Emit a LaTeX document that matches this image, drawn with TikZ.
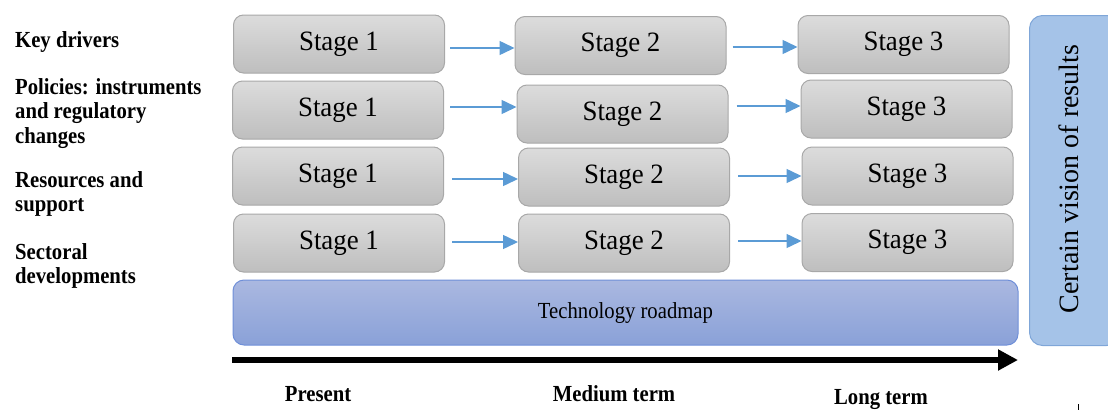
\documentclass[tikz,border=0pt]{standalone}
\usepackage{fontspec}
\setmainfont{Liberation Serif}
\newfontfamily\narrowserif[FakeStretch=0.9]{Liberation Serif}
\newfontfamily\stageserif[FakeStretch=0.96]{Liberation Serif}
\usetikzlibrary{arrows.meta}

\definecolor{stagetop}{HTML}{DCDCDC}
\definecolor{stagebot}{HTML}{BEBEBE}
\definecolor{stageedge}{HTML}{A8A8A8}
\definecolor{roadtop}{HTML}{AAB8E0}
\definecolor{roadbot}{HTML}{8AA1D8}
\definecolor{roadedge}{HTML}{6F8FD8}
\definecolor{visionfill}{HTML}{A5C3E8}
\definecolor{visionedge}{HTML}{7FA6D8}
\definecolor{flowblue}{HTML}{5B9BD5}

\tikzset{
  stagebox/.style={draw=stageedge, line width=1pt, rounded corners=10pt,
    top color=stagetop, bottom color=stagebot, minimum height=58pt,
    minimum width=211pt, inner sep=0pt,
    font=\stageserif\fontsize{28}{30}\selectfont},
  rowlabel/.style={anchor=north west, align=left, inner sep=0pt,
    font=\narrowserif\fontsize{23}{24.5}\selectfont\bfseries},
  termlabel/.style={inner sep=0pt,
    font=\narrowserif\fontsize{23}{24}\selectfont\bfseries},
  flow/.style={draw=flowblue, line width=1.5pt,
    -{Triangle[length=15pt,width=14pt]}},
}

\begin{document}
\begin{tikzpicture}[x=1pt, y=-1pt]
\useasboundingbox (0,0) rectangle (1108,410);
\begin{scope}
\clip (0,0) rectangle (1108,410);

% row labels
\node[rowlabel] (l1) at (15,31) {Key drivers};
\node[rowlabel] (l2) at (15,78) {Policies: instruments\\and regulatory\\changes};
\node[rowlabel] (l3) at (15,171) {Resources and\\support};
\node[rowlabel] (l4) at (15,243) {Sectoral\\developments};

% stage boxes
\node[stagebox] (s11) at (339,44)    {Stage 1};
\node[stagebox] (s12) at (620.5,45.5) {Stage 2};
\node[stagebox] (s13) at (903.5,44.5) {Stage 3};

\node[stagebox] (s21) at (338,110)   {Stage 1};
\node[stagebox] (s22) at (622.5,114) {Stage 2};
\node[stagebox] (s23) at (906.5,109) {Stage 3};

\node[stagebox] (s31) at (338,176)   {Stage 1};
\node[stagebox] (s32) at (624,177)   {Stage 2};
\node[stagebox] (s33) at (907.5,176) {Stage 3};

\node[stagebox] (s41) at (339,243)   {Stage 1};
\node[stagebox] (s42) at (624,243)   {Stage 2};
\node[stagebox] (s43) at (907.5,242.5) {Stage 3};

% arrows between stages
\draw[flow] ([xshift=5pt,yshift=-4pt]s11.east) -- ([yshift=-4pt]s11.east -| s12.west);
\draw[flow] ([xshift=6pt,yshift=-1.5pt]s12.east) -- ([yshift=-1.5pt]s12.east -| s13.west);
\draw[flow] ([xshift=6pt,yshift=3pt]s21.east) -- ([yshift=3pt]s21.east -| s22.west);
\draw[flow] ([xshift=8pt,yshift=8pt]s22.east) -- ([yshift=8pt]s22.east -| s23.west);
\draw[flow] ([xshift=8pt,yshift=-3pt]s31.east) -- ([yshift=-3pt]s31.east -| s32.west);
\draw[flow] ([xshift=8pt,yshift=1pt]s32.east) -- ([yshift=1pt]s32.east -| s33.west);
\draw[flow] ([xshift=7pt,yshift=1pt]s41.east) -- ([yshift=1pt]s41.east -| s42.west);
\draw[flow] ([xshift=8pt,yshift=2pt]s42.east) -- ([yshift=2pt]s42.east -| s43.west);

% technology roadmap band
\node[draw=roadedge, line width=1pt, rounded corners=11pt,
      top color=roadtop, bottom color=roadbot,
      minimum width=785pt, minimum height=65pt, inner sep=0pt,
      font=\narrowserif\fontsize{23}{25}\selectfont] (road) at (625.5,312.5) {Technology roadmap};

% vision column
\node[draw=visionedge, line width=1pt, rounded corners=13pt, fill=visionfill,
      minimum width=90pt, minimum height=330pt, inner sep=0pt,
      anchor=north west] (vision) at (1029,15) {};
\node[rotate=90, font=\fontsize{28}{30}\selectfont, inner sep=0pt]
      (visiontext) at (1069,179) {Certain vision of results};

% time axis
\coordinate (tstart) at (232,360);
\coordinate (tend) at (1018,360);
\draw[line width=6pt, -{Triangle[length=20pt,width=20pt]}] (tstart) -- (tend);

\node[termlabel] (t1) at (318,394) {Present};
\node[termlabel] (t2) at (614,394) {Medium term};
\node[termlabel] (t3) at (881,400) {Long term};

% small tick at the lower right
\coordinate (tk1) at (1078,404);
\coordinate (tk2) at (1078,410);
\draw[line width=1pt] (tk1) -- (tk2);
\end{scope}
\end{tikzpicture}
\end{document}
